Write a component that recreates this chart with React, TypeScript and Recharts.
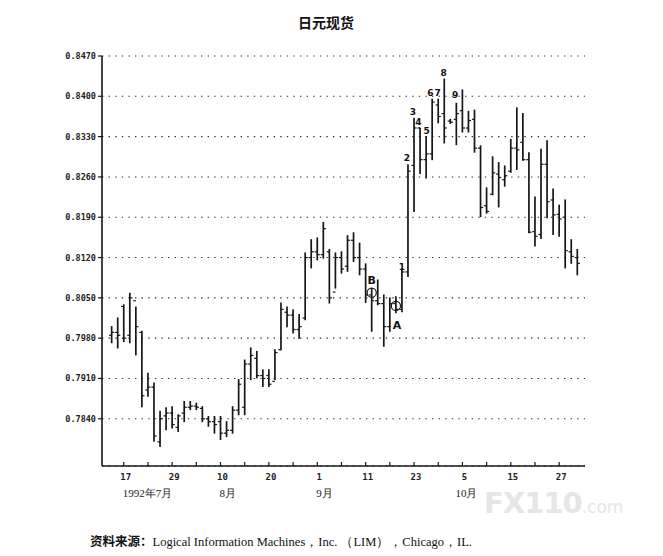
import { ComposedChart, Bar, XAxis, YAxis, CartesianGrid, ReferenceDot } from "recharts";

// daily yen spot bars, 15 Jul 1992 .. 30 Oct 1992
const highs = [
  0.8000, 0.8015, 0.8038, 0.8058, 0.8034, 0.7992, 0.7919, 0.7902, 0.7853, 0.7859,
  0.7861, 0.7847, 0.7870, 0.7870, 0.7867, 0.7861, 0.7844, 0.7844, 0.7844, 0.7835,
  0.7861, 0.7908, 0.7942, 0.7963, 0.7957, 0.7925, 0.7925, 0.7960, 0.8041, 0.8034,
  0.8029, 0.8021, 0.8128, 0.8151, 0.8154, 0.8181, 0.8134, 0.8128, 0.8130, 0.8158,
  0.8163, 0.8145, 0.8109, 0.8066, 0.8081, 0.8055, 0.8050, 0.8052, 0.8099, 0.8281,
  0.8362, 0.8345, 0.8330, 0.8395, 0.8395, 0.8430, 0.8360, 0.8388, 0.8411, 0.8374,
  0.8376, 0.8314, 0.8241, 0.8295, 0.8285, 0.8279, 0.8325, 0.8380, 0.8370, 0.8302,
  0.8225, 0.8308, 0.8323, 0.8239, 0.8211, 0.8220, 0.8151, 0.8134,
];
const lows = [
  0.7972, 0.7963, 0.7974, 0.7972, 0.7951, 0.7861, 0.7879, 0.7801, 0.7792, 0.7821,
  0.7824, 0.7818, 0.7835, 0.7856, 0.7856, 0.7835, 0.7827, 0.7815, 0.7804, 0.7809,
  0.7815, 0.7847, 0.7847, 0.7908, 0.7911, 0.7896, 0.7896, 0.7908, 0.7960, 0.8000,
  0.7989, 0.7980, 0.8012, 0.8102, 0.8116, 0.8119, 0.8041, 0.8067, 0.8093, 0.8096,
  0.8113, 0.8090, 0.8042, 0.7992, 0.8038, 0.7966, 0.7992, 0.8024, 0.8026, 0.8087,
  0.8200, 0.8266, 0.8258, 0.8290, 0.8354, 0.8319, 0.8353, 0.8316, 0.8338, 0.8338,
  0.8303, 0.8191, 0.8197, 0.8229, 0.8208, 0.8244, 0.8268, 0.8273, 0.8289, 0.8163,
  0.8140, 0.8153, 0.8189, 0.8160, 0.8157, 0.8102, 0.8110, 0.8090,
];
const opens = [
  0.7985, 0.7990, 0.8035, 0.7985, 0.8045, 0.7990, 0.7890, 0.7895, 0.7800, 0.7845,
  0.7850, 0.7825, 0.7850, 0.7860, 0.7862, 0.7858, 0.7840, 0.7835, 0.7835, 0.7815,
  0.7820, 0.7855, 0.7860, 0.7935, 0.7945, 0.7915, 0.7915, 0.7905, 0.7960, 0.8025,
  0.8020, 0.7995, 0.8015, 0.8120, 0.8130, 0.8125, 0.8130, 0.8060, 0.8120, 0.8105,
  0.8150, 0.8120, 0.8100, 0.8055, 0.8045, 0.8040, 0.8000, 0.8040, 0.8030, 0.8095,
  0.8280, 0.8345, 0.8290, 0.8300, 0.8385, 0.8370, 0.8357, 0.8360, 0.8375, 0.8345,
  0.8360, 0.8310, 0.8210, 0.8230, 0.8265, 0.8255, 0.8270, 0.8310, 0.8320, 0.8290,
  0.8165, 0.8160, 0.8282, 0.8220, 0.8195, 0.8190, 0.8130, 0.8120,
];
const closes = [
  0.7990, 0.7985, 0.7980, 0.8050, 0.8000, 0.7880, 0.7895, 0.7810, 0.7840, 0.7850,
  0.7830, 0.7845, 0.7860, 0.7862, 0.7860, 0.7840, 0.7835, 0.7830, 0.7815, 0.7820,
  0.7855, 0.7900, 0.7935, 0.7950, 0.7915, 0.7910, 0.7900, 0.7955, 0.8030, 0.8020,
  0.7995, 0.8000, 0.8120, 0.8130, 0.8125, 0.8170, 0.8050, 0.8120, 0.8100, 0.8150,
  0.8120, 0.8100, 0.8055, 0.8045, 0.8040, 0.8000, 0.8040, 0.8030, 0.8095, 0.8270,
  0.8345, 0.8290, 0.8300, 0.8390, 0.8365, 0.8345, 0.8355, 0.8370, 0.8345, 0.8358,
  0.8310, 0.8207, 0.8200, 0.8267, 0.8259, 0.8262, 0.8310, 0.8307, 0.8290, 0.8164,
  0.8157, 0.8282, 0.8217, 0.8194, 0.8187, 0.8132, 0.8122, 0.8110,
];

const tickIdx = [2, 6, 10, 14, 18, 22, 26, 30, 34, 38, 42, 46, 50, 54, 58, 62, 66, 70, 74];
const dayIdx = [2, 10, 18, 26, 34, 42, 50, 58, 66, 74];
const dayLabels = ["17", "29", "10", "20", "1", "11", "23", "5", "15", "27"];
const monthIdx = [2, 18, 34, 58];
const monthLabels = ["1992年7月", "8月", "9月", "10月"];
const yTicks = [0.784, 0.791, 0.798, 0.805, 0.812, 0.819, 0.826, 0.833, 0.84, 0.847];

// wave counts and markers drawn on the chart
const noteIdx = [48, 48.8, 49.8, 50.7, 52.1, 52.7, 53.9, 54.9, 56.8, 43, 47.2];
const notePrice = [0.8104, 0.8293, 0.8374, 0.8356, 0.834, 0.8407, 0.8407, 0.8442, 0.8403, 0.808, 0.8002];
const noteText = ["1", "2", "3", "4", "5", "6", "7", "8", "9", "B", "A"];
const circleIdx = [43, 47];
const circlePrice = [0.8059, 0.8036];

const data = highs.map((h, i) => ({
  i,
  range: [lows[i], h],
  high: h,
  low: lows[i],
  open: opens[i],
  close: closes[i],
}));

const INK = "#161616";
const MONO = "'DejaVu Sans Mono', 'Liberation Mono', monospace";
const SERIF = "'Liberation Serif', 'DejaVu Serif', serif";
const CJK = "'Noto Sans CJK SC', 'Noto Sans', sans-serif";

function OhlcBar(props: any) {
  const { x, y, width, height, payload } = props;
  const cx = x + width / 2;
  const top = Math.min(y, y + height);
  const bot = Math.max(y, y + height);
  const span = payload.high - payload.low || 1;
  const toY = (v: number) => top + ((payload.high - v) / span) * (bot - top);
  return (
    <g stroke={INK} strokeWidth={1.7}>
      <line x1={cx} x2={cx} y1={top - 0.5} y2={bot + 0.5} />
      <line x1={cx - 2.6} x2={cx} y1={toY(payload.open)} y2={toY(payload.open)} strokeWidth={1.2} />
      <line x1={cx} x2={cx + 2.6} y1={toY(payload.close)} y2={toY(payload.close)} strokeWidth={1.2} />
    </g>
  );
}

function DayTick(props: any) {
  const { x, y, payload } = props;
  const d = dayIdx.indexOf(payload.value);
  const m = monthIdx.indexOf(payload.value);
  return (
    <g>
      <line x1={x} x2={x} y1={y} y2={y - 4} stroke={INK} strokeWidth={1.2} />
      {d >= 0 && (
        <text x={x + 2} y={y + 14} textAnchor="middle" fontFamily={MONO} fontSize={9} fontWeight="bold" fill="#222">
          {dayLabels[d]}
        </text>
      )}
      {m >= 0 && (
        <text
          x={m === 3 ? x - 7 : x - 1}
          y={y + 31}
          textAnchor="start"
          fontFamily={SERIF}
          fontSize={11}
          fill="#222"
        >
          {monthLabels[m]}
        </text>
      )}
    </g>
  );
}

export default function App() {
  return (
    <div style={{ position: "absolute", left: 0, top: 0, width: 663, height: 556, background: "#fff", overflow: "hidden" }}>
      <div
        style={{
          position: "absolute",
          top: 12,
          left: 0,
          width: 652,
          textAlign: "center",
          fontFamily: CJK,
          fontWeight: "bold",
          fontSize: 14,
          color: "#111",
        }}
      >
        日元现货
      </div>
      <div
        style={{
          position: "absolute",
          left: 484,
          top: 486,
          whiteSpace: "nowrap",
          fontFamily: "'DejaVu Sans', sans-serif",
          fontWeight: "bold",
          fontSize: 29,
          color: "#e6e6e6",
          letterSpacing: -1,
        }}
      >
        FX110<span style={{ fontSize: 17, fontWeight: "normal", letterSpacing: 0 }}>.com</span>
      </div>
      <ComposedChart
        width={663}
        height={556}
        data={data}
        margin={{ top: 56, right: 78, bottom: 50, left: 0 }}
        style={{ position: "absolute", left: 0, top: 0 }}
      >
        <CartesianGrid horizontal vertical={false} stroke="#333" strokeDasharray="1.4 5.2" strokeWidth={1.1} />
        <XAxis
          dataKey="i"
          type="number"
          domain={[-1.6, 78.27]}
          allowDataOverflow
          ticks={tickIdx}
          interval={0}
          tickSize={0}
          tickMargin={0}
          tickLine={false}
          axisLine={{ stroke: INK, strokeWidth: 1.6 }}
          tick={<DayTick />}
          height={40}
        />
        <YAxis
          type="number"
          domain={[0.7758, 0.847]}
          ticks={yTicks}
          interval={0}
          width={102}
          tickSize={4}
          tickMargin={2}
          axisLine={{ stroke: INK, strokeWidth: 1.6 }}
          tickLine={{ stroke: INK, strokeWidth: 1.2 }}
          tickFormatter={(v: number) => v.toFixed(4)}
          tick={{ fontFamily: MONO, fontSize: 8.5, fontWeight: "bold", fill: "#222" }}
        />
        <Bar dataKey="range" barSize={4} shape={<OhlcBar />} isAnimationActive={false} />
        {circleIdx.map((ci, k) => (
          <ReferenceDot
            key={"c" + k}
            x={ci}
            y={circlePrice[k]}
            r={4.6}
            fill="none"
            stroke={INK}
            strokeWidth={1.2}
          />
        ))}
        {noteIdx.map((ni, k) => (
          <ReferenceDot
            key={"n" + k}
            x={ni}
            y={notePrice[k]}
            r={0}
            shape={(p: any) => (
              <text
                x={p.cx}
                y={p.cy}
                dy={3.5}
                textAnchor="middle"
                fontFamily="'DejaVu Sans', sans-serif"
                fontWeight="bold"
                fontSize={/[AB]/.test(noteText[k]) ? 11 : 9}
                fill="#111"
              >
                {noteText[k]}
              </text>
            )}
          />
        ))}
      </ComposedChart>
      <div
        style={{
          position: "absolute",
          left: 90,
          top: 531,
          whiteSpace: "nowrap",
          fontSize: 12.5,
          color: "#111",
          fontFamily: SERIF,
        }}
      >
        <span style={{ fontFamily: CJK, fontWeight: "bold" }}>资料来源：</span>
        Logical Information Machines，Inc. （LIM），Chicago，IL.
      </div>
    </div>
  );
}
